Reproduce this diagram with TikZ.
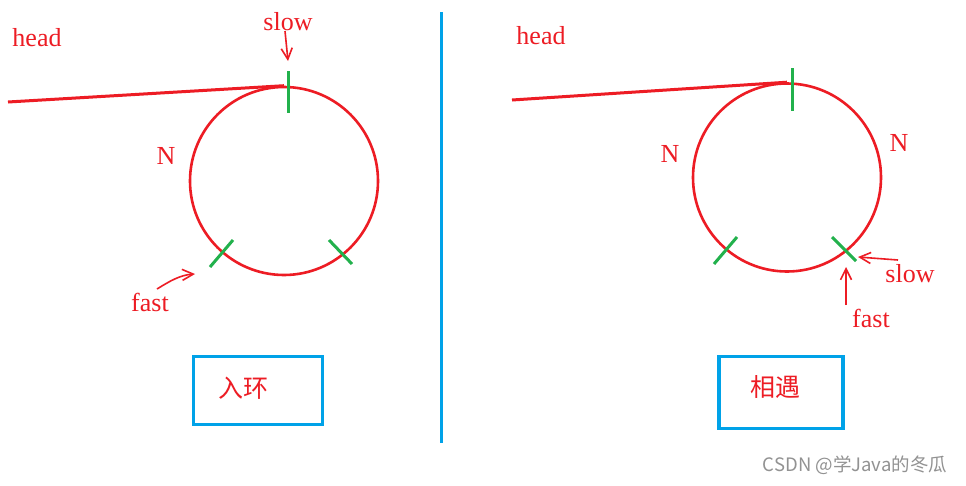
\documentclass[tikz,border=0pt]{standalone}
\usepackage{fontspec}
\setmainfont{Liberation Serif}
\newfontfamily\cjk{Noto Sans CJK SC}
\usetikzlibrary{arrows.meta}
\definecolor{pred}{HTML}{ED1C24}
\definecolor{pgreen}{HTML}{22B14C}
\definecolor{pblue}{HTML}{00A2E8}
\definecolor{wmgray}{HTML}{929292}
\begin{document}
\begin{tikzpicture}[x=1pt,y=-1pt,
  lbl/.style={text=pred,font=\fontsize{26}{28}\selectfont,inner sep=0pt},
  ring/.style={draw=pred,line width=2.6pt,circle,minimum size=188pt,inner sep=0pt},
  tick/.style={draw=pgreen,line width=3pt},
  redline/.style={draw=pred,line width=3pt},
  handarrow/.style={draw=pred,line width=1.6pt,-{Straight Barb[length=11pt,width=11pt]}},
  caption/.style={draw=pblue,line width=3.6pt,inner sep=0pt},
  captext/.style={text=pred,font=\cjk\fontsize{25}{27}\selectfont,inner sep=0pt}]
\useasboundingbox (0,0) rectangle (966,485);
\fill[white] (0,0) rectangle (966,485);

% ---------- left panel ----------
\node[ring] (c1) at (284,181) {};
\coordinate (h1) at (8,102);
\draw[redline] (h1) -- (c1.north);
\draw[tick] (288,71) -- (288,113);
\draw[tick] (233,240) -- (210,267);
\draw[tick] (329,240) -- (352,264);
\node[lbl] (head1) at (37,38) {head};
\node[lbl] (slow1) at (288,22) {slow};
\node[lbl] (fast1) at (150,302) {fast};
\node[lbl] (n1) at (166,156) {N};
\coordinate (sa1) at (285,31);
\coordinate (se1) at (288,61);
\draw[handarrow] (sa1) -- (se1);
\coordinate (fa1) at (157,289);
\coordinate (fe1) at (195,274);
\draw[handarrow] (fa1) .. controls (170,281) and (180,275) .. (fe1);
\node[caption,minimum width=129pt,minimum height=68pt] (b1) at (258,390.3) {};
\node[captext] (t1) at (243,388) {入环};

% ---------- divider ----------
\coordinate (d1) at (441,12);
\coordinate (d2) at (441,443);
\draw[draw=pblue,line width=3pt] (d1) -- (d2);

% ---------- right panel ----------
\node[ring] (c2) at (787,177.5) {};
\coordinate (h2) at (512,100);
\draw[redline] (h2) -- (c2.north);
\draw[tick] (792,68) -- (792,111);
\draw[tick] (737,237) -- (714,264);
\draw[tick] (832,237) -- (856,261);
\node[lbl] (head2) at (541,36) {head};
\node[lbl] (n2) at (670,154) {N};
\node[lbl] (n3) at (899,143) {N};
\node[lbl] (slow2) at (910,274) {slow};
\node[lbl] (fast2) at (871,318) {fast};
\coordinate (sa2) at (898,260);
\coordinate (se2) at (858,257);
\draw[handarrow] (sa2) -- (se2);
\coordinate (fa2) at (846,305);
\coordinate (fe2) at (846,267);
\draw[handarrow] (fa2) -- (fe2);
\node[caption,minimum width=124.5pt,minimum height=72pt] (b2) at (781,392.5) {};
\node[captext] (t2) at (775,387) {相遇};

% ---------- watermark ----------
\node[text=wmgray,font=\cjk\fontsize{18.5}{20}\selectfont,inner sep=0pt] (wm) at (855,465.5) {CSDN @学Java的冬瓜};
\end{tikzpicture}
\end{document}
